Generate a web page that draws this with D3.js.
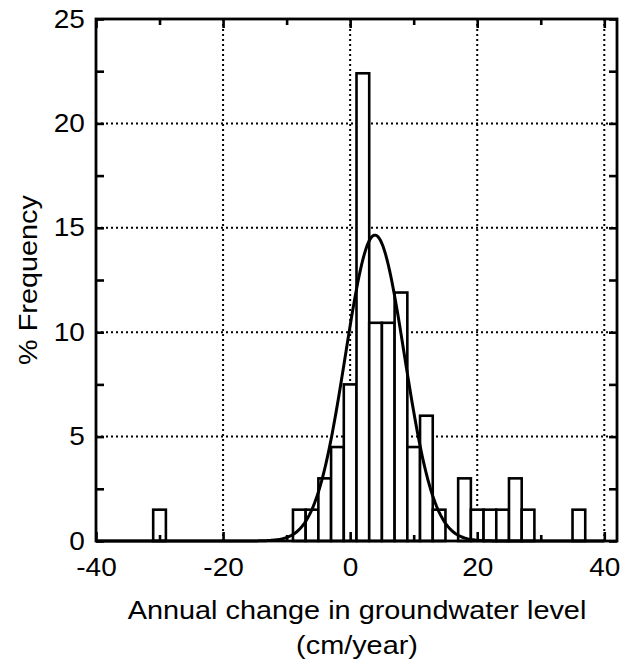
<!DOCTYPE html>
<html><head><meta charset="utf-8">
<script src="https://cdn.jsdelivr.net/npm/d3@7"></script>
<style>
body{margin:0;background:#fff;}
text{font-family:"Liberation Sans",Arial,Helvetica,sans-serif;fill:#000;}
</style></head>
<body><svg id="c" width="623" height="670"></svg>
<script>
// bin centres (cm/year), bin width 2
const binCenters = [-30,-8,-6,-4,-2,0,2,4,6,8,10,12,14,18,20,22,24,26,28,36];
// % frequency in each bin
const frequencies = [1.5,1.5,1.5,3.0,4.5,7.5,22.4,10.45,10.45,11.9,4.5,6.0,1.5,3.0,1.5,1.5,1.5,3.0,1.5,1.5];
const binWidth = 2;
// fitted normal curve parameters
const fitMean = 3.9, fitSigma = 4.65, fitPeak = 14.65;
const xTicks = [-40,-20,0,20,40];
const xMinor = [-30,-10,10,30];
const yTicks = [0,5,10,15,20,25];
const yMinor = [2.5,7.5,12.5,17.5,22.5];

const svg = d3.select("#c");
const L=96,R=617,T=19,B=541;
const x = d3.scaleLinear().domain([-40,42]).range([L,R]);
const y = d3.scaleLinear().domain([0,25]).range([B,T]);

// grid
const g = svg.append("g");
g.selectAll("line.gx").data(xTicks.filter(v=>v>-40)).enter().append("line")
 .attr("x1",d=>x(d)).attr("x2",d=>x(d)).attr("y1",B).attr("y2",T)
 .attr("stroke","#000").attr("stroke-width",2).attr("stroke-dasharray","2,3");
g.selectAll("line.gy").data(yTicks.filter(v=>v>0&&v<25)).enter().append("line")
 .attr("y1",d=>y(d)).attr("y2",d=>y(d)).attr("x1",L).attr("x2",R)
 .attr("stroke","#000").attr("stroke-width",2).attr("stroke-dasharray","2,3");

// bars
svg.append("g").selectAll("rect").data(binCenters).enter().append("rect")
 .attr("x",(d)=>x(d-binWidth/2)).attr("width",(d)=>x(d+binWidth/2)-x(d-binWidth/2))
 .attr("y",(d,i)=>y(frequencies[i])).attr("height",(d,i)=>B-y(frequencies[i]))
 .attr("fill","#fff").attr("stroke","#000").attr("stroke-width",2.6);

// normal curve
const pts = d3.range(-40,40.01,0.2).map(v=>[v, fitPeak*Math.exp(-0.5*Math.pow((v-fitMean)/fitSigma,2))]);
svg.append("path").datum(pts)
 .attr("d",d3.line().x(d=>x(d[0])).y(d=>y(d[1])))
 .attr("fill","none").attr("stroke","#000").attr("stroke-width",3);

// axes (ticks inward)
function style(sel){
  sel.select(".domain").remove();
  sel.selectAll(".tick line").attr("stroke","#000").attr("stroke-width",2.6);
  sel.selectAll(".tick text").attr("font-size",25).attr("fill","#000");
}
const ax = svg.append("g").attr("transform",`translate(0,${B})`)
 .call(d3.axisBottom(x).tickValues(xTicks).tickSize(-9).tickPadding(17).tickFormat(d3.format("d")));
style(ax);
ax.selectAll(".tick text").text(d=>String(d)).attr("transform","scale(1.12,1)");
const axm = svg.append("g").attr("transform",`translate(0,${B})`)
 .call(d3.axisBottom(x).tickValues(xMinor).tickSize(-6).tickFormat(""));
style(axm);
const axt = svg.append("g").attr("transform",`translate(0,${T})`)
 .call(d3.axisTop(x).tickValues(xTicks).tickSize(-9).tickFormat(""));
style(axt);
const axtm = svg.append("g").attr("transform",`translate(0,${T})`)
 .call(d3.axisTop(x).tickValues(xMinor).tickSize(-6).tickFormat(""));
style(axtm);

const ay = svg.append("g").attr("transform",`translate(${L},0)`)
 .call(d3.axisLeft(y).tickValues(yTicks).tickSize(-8).tickPadding(10).tickFormat(d3.format("d")));
style(ay);
ay.selectAll(".tick text").attr("transform","scale(1.12,1)");
const aym = svg.append("g").attr("transform",`translate(${L},0)`)
 .call(d3.axisLeft(y).tickValues(yMinor).tickSize(-8).tickFormat(""));
style(aym);
const ar = svg.append("g").attr("transform",`translate(${R},0)`)
 .call(d3.axisRight(y).tickValues(yTicks.concat(yMinor)).tickSize(-8).tickFormat(""));
style(ar);

// frame
svg.append("rect").attr("x",L).attr("y",T).attr("width",R-L).attr("height",B-T)
 .attr("fill","none").attr("stroke","#000").attr("stroke-width",2.8);

// titles
svg.append("text").attr("transform","translate(357,619) scale(1.11,1)").attr("text-anchor","middle")
 .attr("font-size",26).text("Annual change in groundwater level");
svg.append("text").attr("transform","translate(357,654) scale(1.11,1)").attr("text-anchor","middle")
 .attr("font-size",26).text("(cm/year)");
svg.append("text").attr("transform","translate(37,280) rotate(-90) scale(1.11,1)").attr("text-anchor","middle")
 .attr("font-size",26).text("% Frequency");
</script></body></html>
